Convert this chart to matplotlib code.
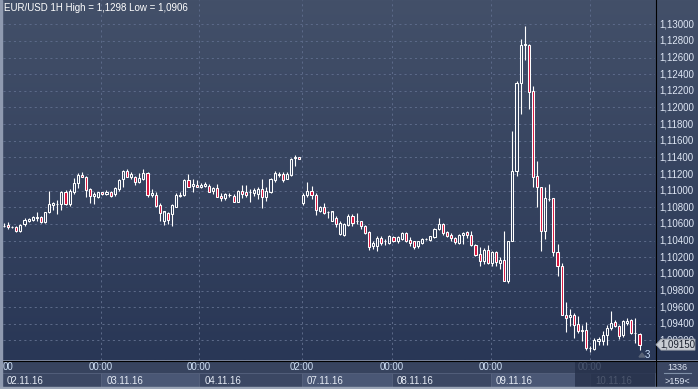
import matplotlib
matplotlib.use("Agg")
import matplotlib.pyplot as plt
import numpy as np
from matplotlib.patches import Rectangle, Polygon

# hourly EUR/USD candles, 02.11.16 .. 10.11.16
opens = [1.1058, 1.1059, 1.1056, 1.1056, 1.1051, 1.1060, 1.1063, 1.1065, 1.1067, 1.1068,
         1.1062, 1.1074, 1.1083, 1.1084, 1.1084, 1.1099, 1.1084, 1.1098, 1.1109, 1.1119,
         1.1117, 1.1102, 1.1094, 1.1093, 1.1098, 1.1096, 1.1099, 1.1096, 1.1102, 1.1114,
         1.1124, 1.1117, 1.1116, 1.1110, 1.1114, 1.1121, 1.1095, 1.1095, 1.1083, 1.1064,
         1.1073, 1.1072, 1.1081, 1.1094, 1.1095, 1.1113, 1.1106, 1.1107, 1.1104, 1.1106,
         1.1106, 1.1100, 1.1103, 1.1094, 1.1091, 1.1095, 1.1094, 1.1087, 1.1100, 1.1099,
         1.1098, 1.1097, 1.1096, 1.1102, 1.1093, 1.1099, 1.1113, 1.1119, 1.1120, 1.1114,
         1.1119, 1.1139, 1.1141, 1.1085, 1.1095, 1.1100, 1.1095, 1.1076, 1.1081, 1.1075,
         1.1064, 1.1067, 1.1048, 1.1047, 1.1059, 1.1070, 1.1063, 1.1063, 1.1057, 1.1050,
         1.1033, 1.1034, 1.1043, 1.1039, 1.1037, 1.1044, 1.1039, 1.1042, 1.1049, 1.1041,
         1.1039, 1.1033, 1.1037, 1.1042, 1.1041, 1.1044, 1.1054, 1.1060, 1.1050, 1.1047,
         1.1043, 1.1037, 1.1047, 1.1050, 1.1047, 1.1035, 1.1024, 1.1016, 1.1029, 1.1013,
         1.1026, 1.1013, 1.1017, 1.0992, 1.1040, 1.1124, 1.1229, 1.1275, 1.1275, 1.1220,
         1.1118, 1.1104, 1.1051, 1.1090, 1.1091, 1.1026, 1.1010, 1.0951, 1.0948, 1.0951,
         1.0940, 1.0933, 1.0933, 1.0911, 1.0910, 1.0919, 1.0919, 1.0926, 1.0935, 1.0942,
         1.0937, 1.0926, 1.0941, 1.0944, 1.0929, 1.0928]
highs = [1.1061, 1.1062, 1.1058, 1.1057, 1.1060, 1.1067, 1.1067, 1.1070, 1.1075, 1.1069,
         1.1075, 1.1100, 1.1086, 1.1089, 1.1100, 1.1101, 1.1102, 1.1115, 1.1121, 1.1122,
         1.1118, 1.1103, 1.1098, 1.1098, 1.1099, 1.1101, 1.1100, 1.1104, 1.1114, 1.1125,
         1.1126, 1.1123, 1.1118, 1.1121, 1.1126, 1.1122, 1.1102, 1.1099, 1.1085, 1.1076,
         1.1075, 1.1084, 1.1097, 1.1099, 1.1114, 1.1120, 1.1114, 1.1113, 1.1109, 1.1110,
         1.1108, 1.1105, 1.1108, 1.1097, 1.1097, 1.1097, 1.1096, 1.1101, 1.1107, 1.1107,
         1.1102, 1.1103, 1.1104, 1.1114, 1.1104, 1.1115, 1.1124, 1.1123, 1.1122, 1.1122,
         1.1139, 1.1143, 1.1141, 1.1097, 1.1110, 1.1106, 1.1097, 1.1082, 1.1085, 1.1076,
         1.1076, 1.1069, 1.1064, 1.1061, 1.1072, 1.1072, 1.1073, 1.1064, 1.1059, 1.1052,
         1.1040, 1.1045, 1.1045, 1.1042, 1.1047, 1.1046, 1.1046, 1.1050, 1.1050, 1.1044,
         1.1040, 1.1040, 1.1043, 1.1043, 1.1046, 1.1055, 1.1067, 1.1061, 1.1052, 1.1049,
         1.1044, 1.1048, 1.1050, 1.1052, 1.1052, 1.1036, 1.1032, 1.1031, 1.1035, 1.1028,
         1.1028, 1.1020, 1.1051, 1.1040, 1.1172, 1.1232, 1.1282, 1.1298, 1.1276, 1.1226,
         1.1136, 1.1105, 1.1105, 1.1108, 1.1091, 1.1036, 1.1013, 1.0966, 1.0958, 1.0953,
         1.0950, 1.0939, 1.0942, 1.0913, 1.0923, 1.0924, 1.0931, 1.0938, 1.0955, 1.0945,
         1.0938, 1.0944, 1.0947, 1.0946, 1.0947, 1.0929]
lows = [1.1056, 1.1054, 1.1055, 1.1050, 1.1050, 1.1058, 1.1062, 1.1064, 1.1064, 1.1061,
        1.1061, 1.1073, 1.1077, 1.1072, 1.1077, 1.1083, 1.1082, 1.1096, 1.1103, 1.1116,
        1.1092, 1.1085, 1.1084, 1.1091, 1.1095, 1.1095, 1.1093, 1.1094, 1.1100, 1.1105,
        1.1116, 1.1114, 1.1107, 1.1109, 1.1113, 1.1093, 1.1092, 1.1081, 1.1064, 1.1059,
        1.1060, 1.1057, 1.1080, 1.1092, 1.1094, 1.1104, 1.1099, 1.1104, 1.1103, 1.1104,
        1.1098, 1.1096, 1.1092, 1.1088, 1.1089, 1.1093, 1.1086, 1.1086, 1.1091, 1.1092,
        1.1087, 1.1094, 1.1090, 1.1079, 1.1088, 1.1097, 1.1111, 1.1117, 1.1111, 1.1114,
        1.1118, 1.1130, 1.1138, 1.1083, 1.1093, 1.1090, 1.1071, 1.1075, 1.1072, 1.1067,
        1.1063, 1.1056, 1.1047, 1.1046, 1.1058, 1.1058, 1.1060, 1.1054, 1.1048, 1.1029,
        1.1030, 1.1027, 1.1035, 1.1035, 1.1036, 1.1038, 1.1037, 1.1041, 1.1038, 1.1033,
        1.1030, 1.1031, 1.1036, 1.1041, 1.1040, 1.1043, 1.1053, 1.1047, 1.1044, 1.1040,
        1.1036, 1.1036, 1.1036, 1.1043, 1.1034, 1.1021, 1.1009, 1.1012, 1.1012, 1.1010,
        1.1010, 1.1006, 1.0991, 1.0989, 1.1040, 1.1118, 1.1192, 1.1257, 1.1198, 1.1105,
        1.1080, 1.1028, 1.1042, 1.1088, 1.1022, 1.0997, 1.0951, 1.0930, 1.0937, 1.0923,
        1.0929, 1.0919, 1.0909, 1.0906, 1.0909, 1.0915, 1.0914, 1.0914, 1.0932, 1.0936,
        1.0922, 1.0924, 1.0939, 1.0928, 1.0917, 1.0909]
closes = [1.1058, 1.1056, 1.1056, 1.1052, 1.1059, 1.1065, 1.1066, 1.1068, 1.1068, 1.1062,
          1.1074, 1.1084, 1.1085, 1.1084, 1.1098, 1.1084, 1.1100, 1.1109, 1.1119, 1.1117,
          1.1101, 1.1094, 1.1096, 1.1098, 1.1096, 1.1099, 1.1094, 1.1103, 1.1113, 1.1124,
          1.1117, 1.1120, 1.1110, 1.1115, 1.1121, 1.1095, 1.1097, 1.1082, 1.1073, 1.1075,
          1.1065, 1.1083, 1.1095, 1.1095, 1.1113, 1.1105, 1.1108, 1.1104, 1.1107, 1.1108,
          1.1099, 1.1103, 1.1093, 1.1091, 1.1096, 1.1095, 1.1087, 1.1100, 1.1096, 1.1095,
          1.1099, 1.1101, 1.1102, 1.1093, 1.1100, 1.1114, 1.1121, 1.1120, 1.1113, 1.1120,
          1.1138, 1.1141, 1.1138, 1.1095, 1.1100, 1.1095, 1.1077, 1.1080, 1.1073, 1.1075,
          1.1075, 1.1060, 1.1061, 1.1060, 1.1069, 1.1061, 1.1063, 1.1057, 1.1049, 1.1032,
          1.1037, 1.1043, 1.1037, 1.1039, 1.1045, 1.1039, 1.1044, 1.1049, 1.1040, 1.1037,
          1.1032, 1.1039, 1.1042, 1.1042, 1.1045, 1.1054, 1.1060, 1.1049, 1.1045, 1.1043,
          1.1038, 1.1047, 1.1049, 1.1047, 1.1035, 1.1023, 1.1015, 1.1029, 1.1013, 1.1026,
          1.1014, 1.1017, 1.0992, 1.1039, 1.1124, 1.1230, 1.1275, 1.1276, 1.1219, 1.1116,
          1.1104, 1.1051, 1.1091, 1.1090, 1.1026, 1.1009, 1.0951, 1.0947, 1.0951, 1.0939,
          1.0931, 1.0931, 1.0911, 1.0911, 1.0920, 1.0922, 1.0927, 1.0935, 1.0941, 1.0937,
          1.0925, 1.0943, 1.0943, 1.0929, 1.0929, 1.0915]

price_ticks = [1.092, 1.094, 1.096, 1.098, 1.100, 1.102, 1.104, 1.106, 1.108, 1.110,
               1.112, 1.114, 1.116, 1.118, 1.120, 1.122, 1.124, 1.126, 1.128, 1.130]
time_labels = ["00:00", "00:00", "02:00", "00:00", "00:00", "00:00"]
date_labels = ["02.11.16", "03.11.16", "04.11.16", "07.11.16", "08.11.16", "09.11.16", "10.11.16"]
sep_idx = [23.7, 47.6, 72.7, 94.6, 118.8, 142.9]   # candle index of each day separator
last_price = 1.0915

W, H = 698, 389
fig = plt.figure(figsize=(W / 100, H / 100), dpi=100)
fig.patch.set_facecolor("#8f9ab0")
plt.rcParams["font.family"] = ["Liberation Sans", "DejaVu Sans"]


def px_axes(l, t, r, b, **kw):
    return fig.add_axes([l / W, 1 - b / H, (r - l) / W, (b - t) / H], **kw)


# gradient background of the plot + price panel
bg = px_axes(2, 0, W, 360)
grad = np.linspace(0, 1, 256)[:, None]
top, bot = np.array([67, 80, 105]) / 255, np.array([41, 55, 86]) / 255
bg.imshow(top + (bot - top) * grad[..., None], aspect="auto", extent=[0, 1, 0, 1])
bg.set_axis_off()

# main candle area
ax = px_axes(3, 0, 655, 360)
ax.patch.set_alpha(0)
y_top = 1.13 + 24.3 / 8320
y_bot = 1.13 - (360 - 24.3) / 8320
ax.set_ylim(y_bot, y_top)
ax.set_xlim((3 - 4) / 4.1, (655 - 4) / 4.1)
for p in price_ticks:
    ax.axhline(p, color="#5b6988", lw=0.75, ls=(0, (2, 3)), zorder=1)
for s in sep_idx:
    ax.axvline(s, color="#5b6988", lw=0.75, ls=(0, (2, 3)), zorder=1)

o = np.array(opens); h = np.array(highs); l = np.array(lows); c = np.array(closes)
idx = np.arange(len(o))
body_lo = np.minimum(o, c)
body_hi = np.maximum(o, c)
ax.vlines(idx, body_hi, h, color="white", lw=0.8, zorder=3)
ax.vlines(idx, l, body_lo, color="white", lw=0.8, zorder=3)
fill = np.where(c < o, "#d8143d", "none")
ax.bar(idx, body_hi - body_lo, bottom=body_lo, width=0.5, color=fill,
       edgecolor="white", linewidth=0.75, zorder=4)
ax.set_axis_off()

fig.text(4 / W, 1 - 8 / H, "EUR/USD 1H High = 1,1298 Low = 1,0906", color="white",
         fontsize=7, va="center", ha="left")

# right price panel labels (the lowest one sits under the last-price marker)
rp = px_axes(655, 0, W, 360)
rp.patch.set_alpha(0)
rp.set_ylim(y_bot, y_top)
rp.set_xlim(0, 1)
rp.set_axis_off()
for p in price_ticks:
    rp.text(4 / 43, p, f"{p:.5f}".replace(".", ","), color="#dfe7f5", fontsize=7,
            va="center", ha="left")

# overlay for frame parts in pixel coords
dk = px_axes(0, 0, W, H)
dk.set_zorder(10)
dk.set_xlim(0, W)
dk.set_ylim(H, 0)
dk.set_axis_off()
dk.patch.set_alpha(0)

# time axis strip
dk.add_patch(Rectangle((2, 361), 653, 26, color="#37435e", zorder=1))
x_sep = [4 + 4.1 * s for s in sep_idx]
edges = [2] + x_sep + [655]
for k, lab in enumerate(date_labels):
    x0, x1 = edges[k], edges[k + 1]
    col = "#4a5775" if k % 2 == 1 else "#3b4763"
    dk.add_patch(Rectangle((x0, 373), x1 - x0, 14, facecolor=col, edgecolor="#56627e",
                           lw=0.6, zorder=2))
    dk.text(x0 + 5, 380.5, lab, color="#e6ecf6", fontsize=7, va="center", ha="left", zorder=5)
dk.text(3, 367.5, "00", color="#cfe0f5", fontsize=7, va="center", ha="left", zorder=5)
for xs, lab in zip(x_sep, time_labels):
    dk.text(xs, 367.5, lab, color="#cfe0f5", fontsize=7, va="center", ha="center", zorder=5)
# dimmed region at the end of the time strip
dk.add_patch(Rectangle((575, 361), 80, 26, facecolor="#26314b", alpha=0.8, zorder=6))

# frame lines
dk.plot([0, W], [360.5, 360.5], color="black", lw=0.8, zorder=7)
dk.plot([655.5, 655.5], [0, H], color="black", lw=0.8, zorder=7)
dk.add_patch(Rectangle((0, 0), 2, H, color="#8f9ab0", zorder=7))
dk.add_patch(Rectangle((0, 387), W, 2, color="#9aa4b6", zorder=7))

# bottom-right counter box
dk.add_patch(Rectangle((656, 361), 42, 26, color="#3a4662", zorder=5))
dk.text(677, 367.5, "1336", color="#e0e8f5", fontsize=6.5, ha="center", va="center", zorder=8)
dk.plot([664, 691], [373, 373], color="#8090a8", lw=0.8, zorder=8)
dk.text(677, 381, ">159<", color="#e0e8f5", fontsize=6.5, ha="center", va="center", zorder=8)

# last price marker
yl = 24.3 + (1.13 - last_price) * 8320
dk.add_patch(Polygon([(656, yl), (661, yl - 5.5), (695, yl - 5.5), (695, yl + 5.5), (661, yl + 5.5)],
                     closed=True, facecolor="#c9cdd4", edgecolor="#9aa0aa", lw=0.6, zorder=8))
dk.text(678, yl, f"{last_price:.5f}".replace(".", ","), color="#1c2230", fontsize=7,
        ha="center", va="center", zorder=9)
dk.add_patch(Polygon([(639, 357), (642, 353), (645, 357)], closed=True, color="#5a6478", zorder=8))
dk.text(645, 355, "3", color="#cfe3ff", fontsize=7, ha="left", va="center", zorder=9)

fig.savefig("out.png", dpi=100)
